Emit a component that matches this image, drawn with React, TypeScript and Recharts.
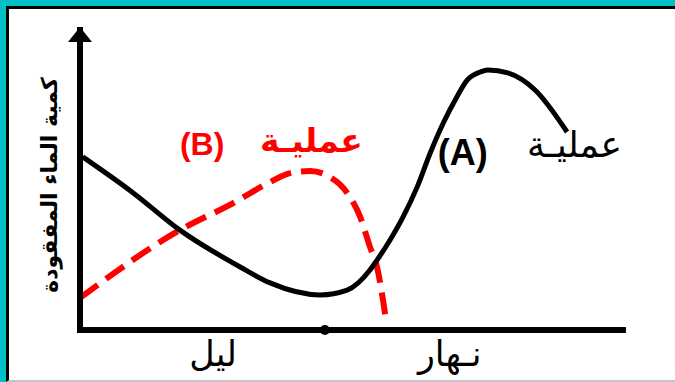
import { Label, Line, LineChart, ReferenceDot, XAxis, YAxis } from "recharts";

// Process A (solid black): low at night, high around midday.
const processAX = [0.5, 9.8, 18.4, 29.5, 35, 44.2, 49.2, 53.4, 54.7, 57.1, 59.5, 62.1, 64.5, 66.9, 69.4, 71.3, 73.7, 75.1, 78.8, 83.8, 89.7];
const processAY = [57.7, 45.7, 33.3, 21, 15.7, 11.7, 13.3, 20, 23.3, 30, 37.7, 47.7, 59, 69, 77.7, 83.3, 86, 86.7, 85.7, 80, 66];

// Process B (red dashed): rises through the night, collapses at daybreak.
const processBX = [0, 18.4, 28.2, 35, 38.7, 42.4, 46, 49.2, 51.6, 53.4, 54.7, 55.8, 56.4];
const processBY = [10.7, 33.3, 42.3, 49.3, 52.3, 53, 51, 45.7, 37.7, 27.7, 21, 10, 2.7];

const periodTicks = [24.5, 68.1];
const periodLabels = ["ليل", "نـهار"];

const yTitle = "كمية الماء المفقودة";
const processWord = "عمليـة";

const toPoints = (xs: number[], ys: number[]) => xs.map((x, i) => ({ x, y: ys[i] }));
const seriesA = toPoints(processAX, processAY);
const seriesB = toPoints(processBX, processBY);

const ARABIC = "'DejaVu Sans', sans-serif";
const LATIN = "'Liberation Sans', Arial, sans-serif";
const RED = "#ff0000";

function Arrow(props: any) {
  const { cx, cy } = props;
  return <polygon points={`${cx},${cy - 3} ${cx - 12},${cy + 12} ${cx + 12},${cy + 12}`} fill="#000" />;
}

function note(text: string, color: string, size: number, weight: string, anchor: string, family: string) {
  return (props: any) => (
    <text
      x={props.cx}
      y={props.cy}
      fill={color}
      fontSize={size}
      fontWeight={weight}
      fontFamily={family}
      textAnchor={anchor}
    >
      {text}
    </text>
  );
}

function PeriodTick(props: any) {
  const { x, y, index } = props;
  return (
    <text x={x} y={y + 28} textAnchor="middle" fontSize={35} fontFamily={ARABIC} fill="#000">
      {periodLabels[index]}
    </text>
  );
}

export default function App() {
  return (
    <div
      style={{
        position: "absolute",
        left: 0,
        top: 0,
        width: 675,
        height: 382,
        background: "#fff",
        overflow: "hidden",
      }}
    >
      <div
        style={{
          position: "absolute",
          left: 0,
          top: 0,
          right: 0,
          bottom: 0,
          borderTop: "6px solid #00bfc6",
          borderLeft: "6px solid #00bfc6",
        }}
      >
        <div
          style={{
            position: "absolute",
            left: 0,
            top: 0,
            right: 0,
            bottom: 0,
            borderTop: "3px solid #000",
            borderLeft: "3px solid #000",
            borderBottom: "2px solid #c4c4c4",
          }}
        />
      </div>
      <div style={{ position: "absolute", left: 0, top: 0 }}>
        <LineChart width={675} height={382} margin={{ top: 30, right: 52, bottom: 0, left: 0 }}>
          <XAxis
            type="number"
            dataKey="x"
            domain={[0, 100]}
            ticks={periodTicks}
            interval={0}
            tick={<PeriodTick />}
            tickLine={false}
            axisLine={{ stroke: "#000", strokeWidth: 6, strokeLinecap: "square" }}
            height={52}
          />
          <YAxis
            type="number"
            domain={[0, 100]}
            tick={false}
            tickLine={false}
            width={80}
            axisLine={{ stroke: "#000", strokeWidth: 6, strokeLinecap: "square" }}
          >
            <Label
              content={(p: any) => {
                const vb = p.viewBox;
                const cx = vb.x + 57;
                const cy = vb.y + vb.height / 2 + 5;
                return (
                  <text
                    x={cx}
                    y={cy}
                    transform={`rotate(-90 ${cx} ${cy})`}
                    textAnchor="middle"
                    fontSize={22}
                    fontWeight="bold"
                    fontFamily={ARABIC}
                    fill="#000"
                  >
                    {yTitle}
                  </text>
                );
              }}
            />
          </YAxis>
          <Line
            data={seriesB}
            dataKey="y"
            type="monotone"
            stroke={RED}
            strokeWidth={6}
            strokeDasharray="22 10"
            dot={false}
            isAnimationActive={false}
          />
          <Line
            data={seriesA}
            dataKey="y"
            type="monotone"
            stroke="#000"
            strokeWidth={5}
            dot={false}
            isAnimationActive={false}
          />
          <ReferenceDot x={0} y={100} r={1} shape={Arrow} />
          <ReferenceDot x={45.1} y={0} r={5} fill="#000" stroke="none" />
          <ReferenceDot x={18.4} y={58.3} shape={note("(B)", RED, 32, "bold", "start", LATIN)} />
          <ReferenceDot x={52.1} y={59.3} shape={note(processWord, RED, 33, "bold", "end", ARABIC)} />
          <ReferenceDot x={65.9} y={55} shape={note("(A)", "#000", 36, "bold", "start", LATIN)} />
          <ReferenceDot x={99.8} y={57.6} shape={note(processWord, "#000", 36, "normal", "end", ARABIC)} />
        </LineChart>
      </div>
    </div>
  );
}
